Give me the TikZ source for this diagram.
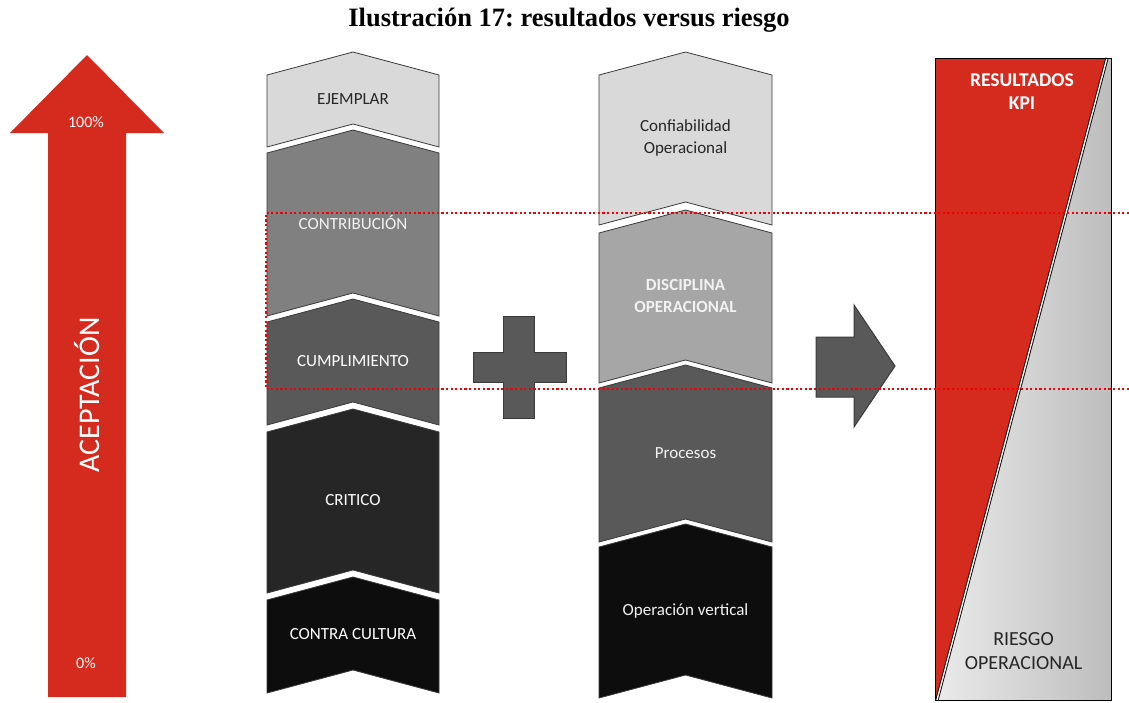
\documentclass[tikz,border=0pt]{standalone}
\usepackage{fontspec}
\setmainfont{Carlito}
\newfontfamily\tituloletra{Liberation Serif}
\definecolor{rvrRojo}{HTML}{D52B1E}
\definecolor{rvrPunto}{HTML}{F00000}
\definecolor{rvrGrisA}{HTML}{D9D9D9}
\definecolor{rvrGrisB}{HTML}{808080}
\definecolor{rvrGrisC}{HTML}{A6A6A6}
\definecolor{rvrGrisD}{HTML}{595959}
\definecolor{rvrGrisE}{HTML}{262626}
\definecolor{rvrGrisF}{HTML}{0D0D0D}
\definecolor{rvrBorde}{HTML}{3A3A3A}
\definecolor{rvrTinta}{HTML}{262626}
\definecolor{rvrClaro}{HTML}{F2F2F2}
\definecolor{rvrPanelA}{HTML}{EAEAEA}
\definecolor{rvrPanelB}{HTML}{BDBDBD}
\newcommand{\etiq}{\fontsize{17}{22.5}\selectfont}
\usepackage{tikz}
\frenchspacing

\begin{document}
\begin{tikzpicture}[x=1pt, y=-1pt,
		nivel/.style={draw=rvrBorde, line width=0.8pt},
		etiqueta/.style={align=center, inner sep=1pt}]
		\useasboundingbox (0,0) rectangle (1129,702);
		
		% Titulo
		\node[font=\tituloletra\bfseries\fontsize{26.5}{30}\selectfont] (titulo) at (569,20)
			{Ilustración 17: resultados versus riesgo};
		
		% Flecha de aceptacion
		\fill[rvrRojo] (48,697) -- (48,133) -- (10,133) -- (87,55) -- (164,133)
			-- (126,133) -- (126,697) -- cycle;
		\node[font=\fontsize{16}{19}\selectfont, text=white] (cien) at (86,122) {100\%};
		\node[font=\fontsize{16}{19}\selectfont, text=white] (cero) at (86,663) {0\%};
		\node[font=\fontsize{30}{35}\selectfont, text=white, rotate=90] (aceptacion) at (87,395) {ACEPTACIÓN};
		
		% Niveles de cultura
		\foreach \t/\b/\fondo/\tinta/\lab in {75/147/rvrGrisA/rvrTinta/EJEMPLAR,
			153/316/rvrGrisB/rvrClaro/CONTRIBUCIÓN, 322/425/rvrGrisD/white/CUMPLIMIENTO,
			432/593/rvrGrisE/white/CRITICO, 600/693/rvrGrisF/white/CONTRA CULTURA}{
			\draw[nivel, fill=\fondo] (267,\t) -- (353,\t-23) -- (439,\t) -- (439,\b)
				-- (353,\b-23) -- (267,\b) -- cycle;
			\node[etiqueta, font=\etiq, text=\tinta] (cultura-\t) at (353,{(\t+\b)/2-12}) {\lab};
		}
		
		% Suma
		\draw[nivel, fill=rvrGrisD, line width=1pt] (503,316) -- (534,316) -- (534,352) -- (566,352)
			-- (566,382) -- (534,382) -- (534,418) -- (503,418) -- (503,382) -- (473,382)
			-- (473,352) -- (503,352) -- cycle;
		
		% Niveles de operacion
		\foreach \t/\b/\fondo/\tinta/\peso/\lab in {75/225/rvrGrisA/rvrTinta/\mdseries/{Confiabilidad\\Operacional},
			233/383/rvrGrisC/rvrClaro/\bfseries/{DISCIPLINA\\OPERACIONAL},
			388/542/rvrGrisD/rvrClaro/\mdseries/Procesos,
			547/698/rvrGrisF/rvrClaro/\mdseries/Operación vertical}{
			\draw[nivel, fill=\fondo] (599,\t) -- (685.5,\t-23) -- (772,\t) -- (772,\b)
				-- (685.5,\b-23) -- (599,\b) -- cycle;
			\node[etiqueta, font=\etiq\peso, text=\tinta] (operacion-\t) at (685.5,{(\t+\b)/2-12}) {\lab};
		}
		
		% Flecha de resultado
		\draw[nivel, fill=rvrGrisD, line width=1pt] (816,337) -- (854,337) -- (854,305) -- (895,366)
			-- (854,427) -- (854,397) -- (816,397) -- cycle;
		
		% Panel resultados / riesgo
		\fill[rvrRojo] (935,58) -- (1107,58) -- (937,700) -- (935,700) -- cycle;
		\shade[left color=rvrPanelA, right color=rvrPanelB] (937,700) -- (1107,58) -- (1111,58)
			-- (1111,700) -- cycle;
		\draw[black, line width=3.2pt] (937,700) -- (1107,58);
		\draw[white, line width=1.4pt] (937,700) -- (1107,58);
		\draw[black, line width=1pt] (935,58) rectangle (1111,700);
		\node[etiqueta, font=\fontsize{19.5}{23}\selectfont\bfseries, text=white] (resultados) at (1022,92)
			{RESULTADOS\\KPI};
		\node[etiqueta, font=\fontsize{20}{24.5}\selectfont, text=rvrTinta] (riesgo) at (1023.5,651)
			{RIESGO\\OPERACIONAL};
		
		% Franja punteada
		\draw[rvrPunto, line width=2.2pt, dash pattern=on 2.2pt off 2.4pt]
			(1129,213) -- (266,213) -- (266,389) -- (1129,389);
		
	\end{tikzpicture}
\end{document}
